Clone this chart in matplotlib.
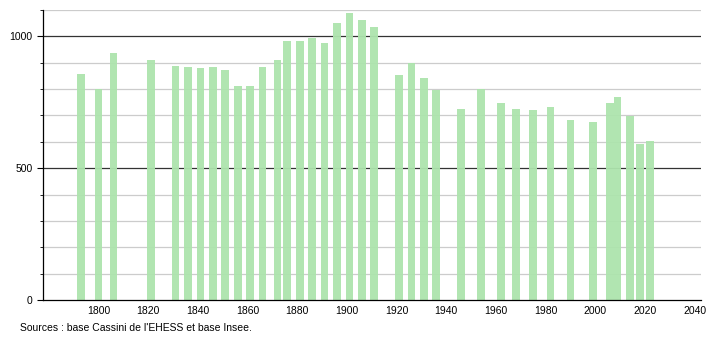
import matplotlib
matplotlib.use("Agg")
import matplotlib.pyplot as plt
from matplotlib.ticker import MultipleLocator

years = [1793, 1800, 1806, 1821, 1831, 1836, 1841, 1846, 1851, 1856,
         1861, 1866, 1872, 1876, 1881, 1886, 1891, 1896, 1901, 1906,
         1911, 1921, 1926, 1931, 1936, 1946, 1954, 1962, 1968, 1975,
         1982, 1990, 1999, 2006, 2009, 2014, 2018, 2022]
population = [858, 801, 938, 911, 889, 885, 880, 885, 874, 813,
              813, 884, 911, 982, 982, 992, 975, 1051, 1089, 1062,
              1036, 855, 899, 842, 798, 725, 801, 747, 725, 722,
              733, 684, 676, 748, 770, 698, 592, 604]
x_ticks = [1800, 1820, 1840, 1860, 1880, 1900, 1920, 1940, 1960, 1980, 2000, 2020, 2040]
y_ticks = [0, 500, 1000]
source_text = "Sources : base Cassini de l'EHESS et base Insee."

plt.rcParams['font.family'] = ['Liberation Sans', 'DejaVu Sans']

fig = plt.figure(figsize=(7.1, 3.4), dpi=100)
ax = fig.add_axes([43/710, 1 - 300/340, (701 - 43)/710, (300 - 10)/340])

# grid lines
for v in range(100, 1101, 100):
    if v % 500 == 0:
        ax.axhline(v, color='#333333', lw=0.9, zorder=1)
    else:
        ax.axhline(v, color='#cccccc', lw=0.9, zorder=1)

ax.bar(years, population, width=3.1, color='#ade4ad', alpha=0.95, zorder=2, linewidth=0)

ax.set_xlim(1777.6, 2042.6)
ax.set_ylim(0, 1100)
ax.set_xticks(x_ticks)
ax.set_yticks(y_ticks)
ax.yaxis.set_minor_locator(MultipleLocator(100))
ax.tick_params(axis='both', labelsize=7.5, colors='#000000', length=4, width=0.8)
ax.tick_params(axis='x', length=0, pad=4)
ax.tick_params(axis='y', which='minor', length=2, width=0.6)
for s in ['top', 'right']:
    ax.spines[s].set_visible(False)
for s in ['left', 'bottom']:
    ax.spines[s].set_color('#000000')
    ax.spines[s].set_linewidth(0.9)

fig.text(20/710, 1 - 328/340, source_text, fontsize=7.5, ha='left', va='center')

fig.savefig("out.png", dpi=100)
